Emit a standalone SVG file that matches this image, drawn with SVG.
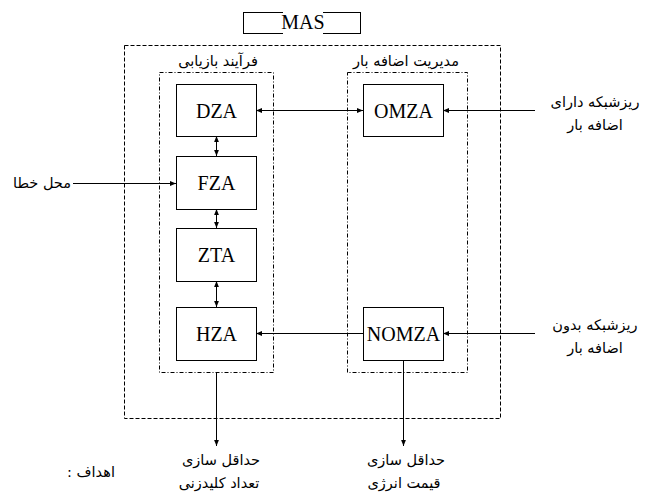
<svg xmlns="http://www.w3.org/2000/svg" width="646" height="495" viewBox="0 0 646 495">
<defs>
<marker id="ah" viewBox="0 0 10 10" refX="10" refY="5" markerWidth="6" markerHeight="6" orient="auto-start-reverse" markerUnits="userSpaceOnUse">
<path d="M0,1 L10,5 L0,9 z" fill="#000"/>
</marker>
<style>
.box{fill:#fff;stroke:#000;stroke-width:1}
.lbl{font-size:20px;text-anchor:middle;fill:#000}
.ar{font-size:14.5px;text-anchor:middle;fill:#000}
.dash{fill:none;stroke:#000;stroke-width:1;stroke-dasharray:4,2}
.dd{fill:none;stroke:#000;stroke-width:1;stroke-dasharray:4,2,1,2}
.ln{fill:none;stroke:#000;stroke-width:1}
</style>
</defs>
<rect width="646" height="495" fill="#fff"/>
<g id="mas">
<rect class="box" x="243.5" y="12.5" width="117" height="21"/>
<rect x="283" y="11" width="40" height="24" fill="#fff"/>
<text class="lbl" font-family="Liberation Serif, serif" x="303" y="29">MAS</text>
</g>
<g id="outer"><rect class="dash" x="124.5" y="45.5" width="376" height="373"/></g>
<g id="recovery">
<rect class="dd" x="159.5" y="72.5" width="114" height="300"/>
<text class="ar" font-family="DejaVu Sans, sans-serif" x="218" y="66">فرآیند بازیابی</text>
</g>
<g id="overload">
<rect class="dd" x="347.5" y="72.5" width="120" height="300"/>
<text class="ar" font-family="DejaVu Sans, sans-serif" x="406" y="66">مدیریت اضافه بار</text>
</g>
<g id="connectors">
<line class="ln" x1="256" y1="110.5" x2="363" y2="110.5" marker-start="url(#ah)" marker-end="url(#ah)"/>
<line class="ln" x1="535" y1="110.5" x2="443" y2="110.5" marker-end="url(#ah)"/>
<line class="ln" x1="216.5" y1="136" x2="216.5" y2="156" marker-start="url(#ah)" marker-end="url(#ah)"/>
<line class="ln" x1="216.5" y1="209" x2="216.5" y2="228" marker-start="url(#ah)" marker-end="url(#ah)"/>
<line class="ln" x1="216.5" y1="281" x2="216.5" y2="307" marker-start="url(#ah)" marker-end="url(#ah)"/>
<line class="ln" x1="73" y1="183.5" x2="176" y2="183.5" marker-end="url(#ah)"/>
<line class="ln" x1="363" y1="333.5" x2="256" y2="333.5" marker-end="url(#ah)"/>
<line class="ln" x1="535" y1="333.5" x2="443" y2="333.5" marker-end="url(#ah)"/>
<line class="ln" x1="216.5" y1="372" x2="216.5" y2="446" marker-end="url(#ah)"/>
<line class="ln" x1="403.5" y1="360" x2="403.5" y2="446" marker-end="url(#ah)"/>
</g>
<g id="DZA"><rect class="box" x="176.5" y="84.5" width="80" height="52"/><text class="lbl" font-family="Liberation Serif, serif" x="216.5" y="118">DZA</text></g>
<g id="FZA"><rect class="box" x="176.5" y="156.5" width="80" height="53"/><text class="lbl" font-family="Liberation Serif, serif" x="216.5" y="190">FZA</text></g>
<g id="ZTA"><rect class="box" x="176.5" y="228.5" width="80" height="53"/><text class="lbl" font-family="Liberation Serif, serif" x="216.5" y="262">ZTA</text></g>
<g id="HZA"><rect class="box" x="176.5" y="307.5" width="80" height="53"/><text class="lbl" font-family="Liberation Serif, serif" x="216.5" y="341">HZA</text></g>
<g id="OMZA"><rect class="box" x="363.5" y="84.5" width="80" height="52"/><text class="lbl" font-family="Liberation Serif, serif" x="403.5" y="118">OMZA</text></g>
<g id="NOMZA"><rect class="box" x="363.5" y="307.5" width="80" height="53"/><text class="lbl" font-family="Liberation Serif, serif" x="403.5" y="341">NOMZA</text></g>
<g id="labels" font-family="DejaVu Sans, sans-serif">
<text class="ar" x="595" y="107">ریزشبکه دارای</text>
<text class="ar" x="595" y="130">اضافه بار</text>
<text class="ar" x="595" y="330">ریزشبکه بدون</text>
<text class="ar" x="595" y="353">اضافه بار</text>
<text class="ar" x="42" y="188">محل خطا</text>
<text class="ar" x="221" y="465">حداقل سازی</text>
<text class="ar" x="219" y="488">تعداد کلیدزنی</text>
<text class="ar" x="406" y="465">حداقل سازی</text>
<text class="ar" x="404" y="488">قیمت انرژی</text>
<text class="ar" x="91" y="477">: اهداف</text>
</g>
</svg>
